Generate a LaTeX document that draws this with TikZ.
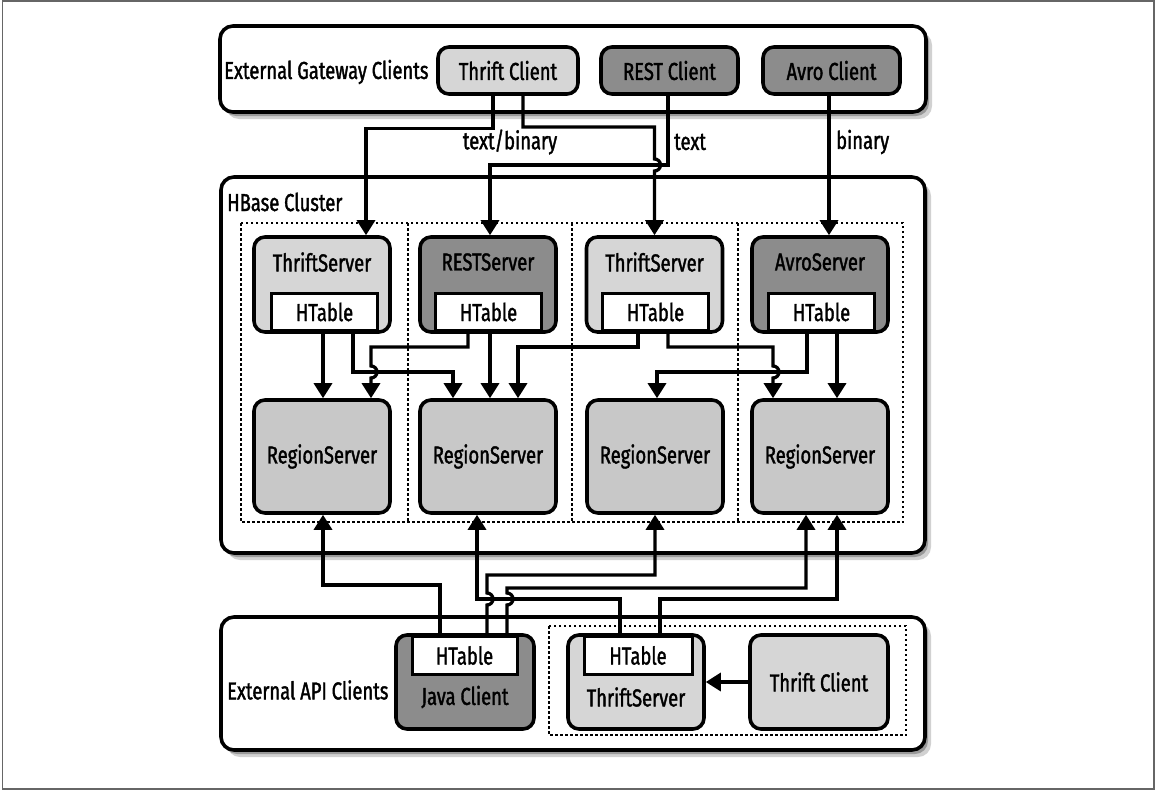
\documentclass[tikz,border=0pt]{standalone}
\usepackage{fontspec}
\setmainfont{Fira Sans}[FakeStretch=0.75, FakeBold=1.5]
\usetikzlibrary{arrows.meta}
\definecolor{lightg}{HTML}{D6D6D6}
\definecolor{darkg}{HTML}{8C8C8C}
\definecolor{regg}{HTML}{C8C8C8}
\tikzset{
  cont/.style={draw, line width=3.6pt, rounded corners=13pt, fill=white},
  shad/.style={fill=black!40, rounded corners=13pt},
  shadlight/.style={fill=black!18, rounded corners=13pt},
  box/.style={draw, line width=3.6pt, rounded corners=11pt, inner sep=0pt},
  ht/.style={draw, line width=3pt, fill=white, inner sep=0pt, minimum width=106pt, minimum height=37pt},
  conn/.style={line width=3.3pt, -{Triangle[length=15pt,width=18pt]}},
  lbl/.style={inner sep=0pt},
  dots/.style={line width=2.5pt, dash pattern=on 2.5pt off 2.5pt},
  frame/.style={draw=black!60, line width=1.5pt},
}
\begin{document}
\begin{tikzpicture}[x=1pt,y=1pt, every node/.style={font=\fontsize{24.5pt}{27pt}\selectfont}]
\useasboundingbox (0,0) rectangle (1156,-790);
\draw[frame] (2.5,-1) rectangle (1154,-789);

% containers with shadows
\fill[shadlight] (226,-32) rectangle (932,-119);
\fill[shad] (223,-29) rectangle (929,-116);
\draw[cont] (220,-26) rectangle (926,-112);

\fill[shadlight] (227,-183) rectangle (931,-560);
\fill[shad] (224,-180) rectangle (928,-557);
\draw[cont] (221,-177) rectangle (925,-553);

\fill[shadlight] (227,-623) rectangle (931,-757);
\fill[shad] (224,-620) rectangle (928,-754);
\draw[cont] (221,-617) rectangle (925,-750);

% labels
\node[lbl, anchor=west] (egc) at (224,-72) {External Gateway Clients};
\node[lbl, anchor=west] (hbc) at (227,-202) {HBase Cluster};
\node[lbl, anchor=west] (eac) at (227,-690) {External API Clients};

% gateway clients
\node[box, fill=lightg, minimum width=140pt, minimum height=47pt] (tc) at (508,-70.5) {Thrift Client};
\node[box, fill=darkg, minimum width=137pt, minimum height=47pt] (rc) at (669.5,-70.5) {REST Client};
\node[box, fill=darkg, minimum width=137pt, minimum height=47pt] (ac) at (831.5,-70.5) {Avro Client};

% dotted grid in cluster
\draw[dots] (241,-223) rectangle (903,-522);
\draw[dots] (408,-223) -- (408,-522);
\draw[dots] (572,-223) -- (572,-522);
\draw[dots] (738,-223) -- (738,-522);

% gateway servers
\node[box, fill=lightg, minimum width=136pt, minimum height=95pt] (ts1) at (322,-284.5) {};
\node[box, fill=darkg, minimum width=136pt, minimum height=95pt] (rs) at (488,-284.5) {};
\node[box, fill=lightg, minimum width=136pt, minimum height=95pt] (ts2) at (654.5,-284.5) {};
\node[box, fill=darkg, minimum width=136pt, minimum height=95pt] (av) at (820,-284.5) {};
\node[lbl] (ts1t) at (322,-262) {ThriftServer};
\node[lbl] (rst) at (488,-262) {RESTServer};
\node[lbl] (ts2t) at (654.5,-262) {ThriftServer};
\node[lbl] (avt) at (820,-262) {AvroServer};
\node[ht, anchor=south] (h1) at (324.5,-332) {HTable};
\node[ht, anchor=south] (h2) at (488.5,-332) {HTable};
\node[ht, anchor=south] (h3) at (655.5,-332) {HTable};
\node[ht, anchor=south] (h4) at (821.5,-332) {HTable};

% region servers
\node[box, fill=regg, minimum width=136pt, minimum height=113pt] (rg1) at (322,-456.5) {RegionServer};
\node[box, fill=regg, minimum width=136pt, minimum height=113pt] (rg2) at (488,-456.5) {RegionServer};
\node[box, fill=regg, minimum width=136pt, minimum height=113pt] (rg3) at (655,-456.5) {RegionServer};
\node[box, fill=regg, minimum width=136pt, minimum height=113pt] (rg4) at (820,-456.5) {RegionServer};

% API clients
\draw[dots] (549,-626) rectangle (906,-735);
\node[box, fill=darkg, minimum width=138pt, minimum height=94pt] (jc) at (465,-682) {};
\node[ht, anchor=north, minimum width=105pt, minimum height=38pt] (jh) at (464.5,-635) {HTable};
\node[lbl] (jct) at (465,-697) {Java Client};
\node[box, fill=lightg, minimum width=136pt, minimum height=94pt] (tsb) at (636,-682) {};
\node[ht, anchor=north, minimum width=108pt, minimum height=38pt] (th) at (638,-635) {HTable};
\node[lbl] (tsbt) at (636,-697) {ThriftServer};
\node[box, fill=lightg, minimum width=138pt, minimum height=94pt] (tcb) at (819,-682) {Thrift Client};

% top connectors
\draw[conn] ([xshift=-15pt]tc.south) -- ++(0,-33) -| ([xshift=44pt]ts1.north);
\draw[conn] ([xshift=15pt]tc.south) |- (654.5,-127) -- (654.5,-159) arc[start angle=90,end angle=-90,radius=6pt] -- (ts2.north);
\draw[conn] ([xshift=-1.5pt]rc.south) |- (490,-165) -- ([xshift=2pt]rs.north);
\draw[conn] ([xshift=-2.5pt]ac.south) -- ([xshift=9pt]av.north);
\node[lbl] (l1) at (510,-142) {text/binary};
\node[lbl, anchor=west] (l2) at (674,-142) {text};
\node[lbl, anchor=west] (l3) at (836,-142) {binary};

% middle connectors
\draw[conn] ([xshift=-1.5pt]h1.south) -- ([xshift=1pt]rg1.north);
\draw[conn] ([xshift=28.5pt]h1.south) -- ++(0,-40) -| ([xshift=-35pt]rg2.north);
\draw[conn] ([xshift=-20.5pt]h2.south) -- ++(0,-15) -| (371,-366) arc[start angle=90,end angle=-90,radius=6pt] -- ([xshift=49pt]rg1.north);
\draw[conn] ([xshift=1.5pt]h2.south) -- ([xshift=2pt]rg2.north);
\draw[conn] ([xshift=-17.5pt]h3.south) -- ++(0,-15) -| ([xshift=30pt]rg2.north);
\draw[conn] ([xshift=12.5pt]h3.south) -- ++(0,-15) -| (773,-366) arc[start angle=90,end angle=-90,radius=6pt] -- ([xshift=-47pt]rg4.north);
\draw[conn] ([xshift=-14.5pt]h4.south) -- ++(0,-40) -| ([xshift=2pt]rg3.north);
\draw[conn] ([xshift=15.5pt]h4.south) -- ([xshift=17pt]rg4.north);

% bottom connectors
\draw[conn] ([xshift=-24.5pt]jh.north) -- ++(0,50) -| ([xshift=1pt]rg1.south);
\draw[conn] ([xshift=22.5pt]jh.north) -- (487,-605) arc[start angle=-90,end angle=90,radius=6pt] -- (487,-575) -| (rg3.south);
\draw[conn] ([xshift=42.5pt]jh.north) -- (507,-605) arc[start angle=-90,end angle=90,radius=6pt] -- (507,-588) -| ([xshift=-14pt]rg4.south);
\draw[conn] ([xshift=-18pt]th.north) -- ++(0,36) -| ([xshift=-11pt]rg2.south);
\draw[conn] ([xshift=22pt]th.north) -- ++(0,36) -| ([xshift=17pt]rg4.south);
\draw[conn] (tcb.west) -- (tsb.east);
\end{tikzpicture}
\end{document}
